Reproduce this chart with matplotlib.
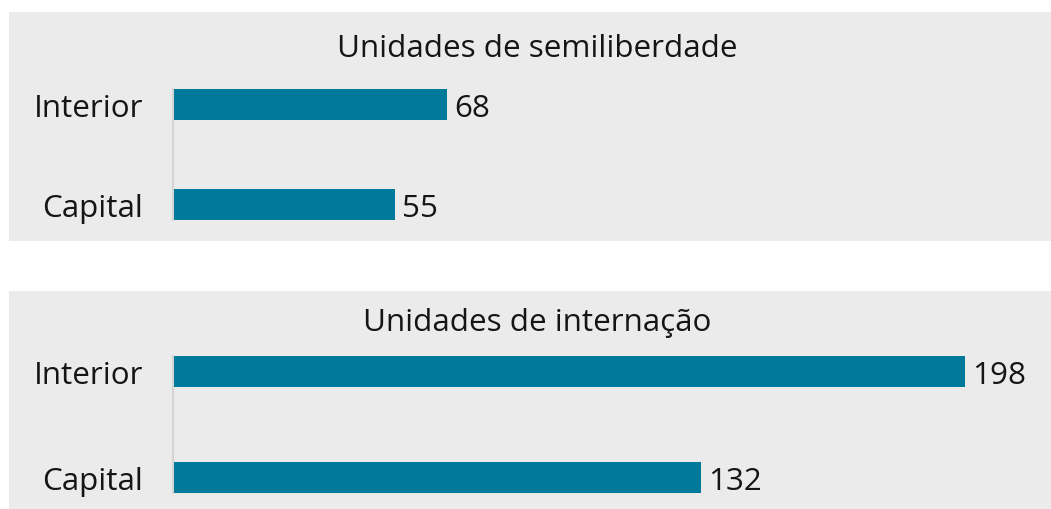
import matplotlib
matplotlib.use("Agg")
import matplotlib.pyplot as plt
from matplotlib.patches import Rectangle

plt.rcParams['font.family'] = ['Open Sans', 'DejaVu Sans']

W, H = 1051, 510
DPI = 100

titles = ["Unidades de semiliberdade", "Unidades de internação"]
categories = ["Capital", "Interior"]
values_semi = [55, 68]
values_int = [132, 198]
panel_values = [values_semi, values_int]

bar_color = "#007a9a"
bg_color = "#ebebeb"
FS = 22.6

fig = plt.figure(figsize=(W / DPI, H / DPI), dpi=DPI)
fig.patch.set_facecolor("white")

# panel layouts in pixels:
# (bg_top, bg_bottom, title_baseline, interior_bar_top, capital_bar_bottom, px_per_unit)
panels = [
    (13, 242, 57, 89, 220, 4.03),
    (292, 510, 331, 356, 493, 4.0),
]

bar_h_px = 31
ax_left = 173

def fx(px):
    return px / W

def fy(py):
    return 1 - py / H

for (bg_top, bg_bot, title_base, bar_top, bar_bot, ppu), title, vals in zip(panels, titles, panel_values):
    fig.patches.append(Rectangle((fx(9), fy(bg_bot)), fx(W - 9), (bg_bot - bg_top) / H,
                                 transform=fig.transFigure, facecolor=bg_color,
                                 edgecolor="none", zorder=-5))
    fig.text(fx(537.5), fy(title_base), title, ha="center", va="baseline",
             fontsize=FS, color="#151515")
    span = bar_bot - bar_top
    d = span - bar_h_px  # distance between bar centres
    h = bar_h_px / d
    ax = fig.add_axes([fx(ax_left), fy(bar_bot + 1), fx(W - ax_left), span / H])
    ax.set_zorder(1)
    ax.set_facecolor("none")
    ax.barh(range(len(categories)), vals, height=h, color=bar_color)
    ax.set_ylim(-h / 2, 1 + h / 2)
    ax.set_xlim(0, (W - ax_left) / ppu)
    ax.set_yticks(range(len(categories)))
    ax.set_yticklabels(categories, fontsize=FS, color="#151515")
    ax.set_xticks([])
    ax.tick_params(axis="y", length=0, pad=21.5)
    for s in ["top", "right", "bottom"]:
        ax.spines[s].set_visible(False)
    ax.spines["left"].set_color("#d4d4d4")
    ax.spines["left"].set_linewidth(1.5)
    for i, v in enumerate(vals):
        ax.annotate(str(v), xy=(v, i), xytext=(5, 0), textcoords="offset points",
                    ha="left", va="center_baseline", fontsize=FS, color="#151515")

fig.savefig("out.png", dpi=DPI)
